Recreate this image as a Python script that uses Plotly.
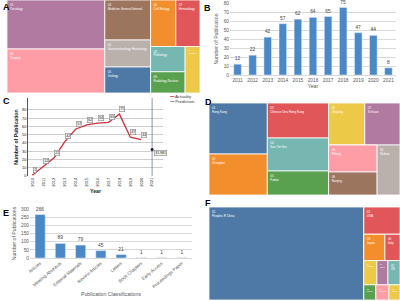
import plotly.graph_objects as go

W, H = 400, 301
FONT = "Liberation Sans, Arial, sans-serif"

def fx(px):
    return px / W

def fy(py):
    return 1 - py / H

# ---------------- data ----------------
# Panel B
years_b = ["2011", "2012", "2013", "2014", "2015", "2016", "2017", "2018", "2019", "2020", "2021"]
pubs_b = [12, 22, 42, 57, 62, 64, 65, 75, 47, 44, 8]

# Panel C
years_c = [2010, 2011, 2012, 2013, 2014, 2015, 2016, 2017, 2018, 2019, 2020]
actual_c = [1, 12, 22, 42, 57, 62, 64, 65, 75, 47, 44]
pred_year = 2021
pred_value = 31.981
c_tick_years = list(range(2010, 2022))
c_tick_vals = [0, 10, 20, 30, 40, 50, 60, 70, 80]
c_ymax = 94.5
c_legend = ["Actuality", "Prediction"]

# Panel E
e_cats = ["Articles", "Meeting Abstracts", "Editorial Materials", "Review Articles",
          "Letters", "Book Chapters", "Early Access", "Proceedings Paper"]
e_vals = [266, 89, 79, 45, 21, 1, 1, 1]

# Tableau palette
TAB = {"blue": "#4E79A7", "orange": "#F28E2B", "red": "#E15759", "teal": "#76B7B2",
       "green": "#59A14F", "yellow": "#EDC948", "purple": "#B07AA1", "pink": "#FF9DA7",
       "brown": "#9C755F", "gray": "#BAB0AC", "none": "#FFFFFF"}

# Panel A treemap
a_ids = ["A", "A1", "A2", "A3", "A3a", "A3b", "A3b1",
         "a01", "a02", "a03", "a04", "a05", "a06", "a07", "a08", "a09", "a10"]
a_parents = ["", "A", "A", "A", "A3", "A3", "A3b",
             "A1", "A1", "A2", "A2", "A2", "A3a", "A3a", "A3b1", "A3b1", "A3b"]
a_values = [0, 0, 0, 0, 0, 0, 0,
            4704, 4224, 1800, 1215, 1170, 1150, 1104, 850, 714, 690]
a_colors = ["none"] * 7 + ["purple", "pink", "brown", "gray", "blue", "orange", "red", "teal", "green", "yellow"]
a_text = [""] * 7 + ["01<br>Oncology", "02<br>Surgery", "03<br>Medicine General Internal",
                     "04<br>Gastroenterology Hepatology", "05<br>Urology", "06<br>Cell Biology",
                     "07<br>Hematology", "08<br>Pathology", "09<br>Radiology Nuclear", "10<br>Pharmacy"]

# Panel D treemap
d_ids = ["D", "D1", "D2", "D3", "D3a", "D3b", "D3b1",
         "d01", "d02", "d03", "d04", "d05", "d06", "d07", "d08", "d09", "d10"]
d_parents = ["", "D", "D", "D", "D3", "D3", "D3b",
             "D1", "D1", "D2", "D2", "D2", "D3a", "D3a", "D3b1", "D3b1", "D3b"]
d_values = [0, 0, 0, 0, 0, 0, 0,
            2958, 2378, 2135, 2013, 1464, 1512, 1470, 1296, 1104, 1150]
d_colors = ["none"] * 7 + ["blue", "orange", "red", "teal", "green", "yellow", "purple", "pink", "brown", "gray"]
d_text = [""] * 7 + ["01<br>Hong Kong", "02<br>Shanghai", "03<br>Chinese Univ Hong Kong",
                     "04<br>Sun Yat Sen", "05<br>Fudan", "06<br>Zhejiang", "07<br>Sichuan",
                     "08<br>Peking", "09<br>Nanjing", "10<br>Wuhan"]

# Panel F treemap
f_ids = ["F", "f01", "F1", "f02", "F1b", "f03", "f04", "F1c", "f05", "f06", "f07",
         "F1d", "f08", "f09", "f10"]
f_parents = ["", "F", "F", "F1", "F1", "F1b", "F1b", "F1", "F1c", "F1c", "F1c",
             "F1", "F1d", "F1d", "F1d"]
f_values = [0, 14168, 0, 972, 0, 546, 390, 0, 312, 264, 288, 0, 180, 195, 165]
f_colors = ["none", "blue", "none", "red", "none", "orange", "red", "none", "yellow", "purple", "teal",
            "none", "green", "pink", "yellow"]
f_text = ["", "01<br>Peoples R China", "", "02<br>USA", "", "03<br>Japan", "04<br>Italy", "",
          "05<br>Germany", "06<br>Korea", "07<br>UK", "", "08<br>France", "09<br>Canada", "10<br>Spain"]

# ---------------- figure ----------------
fig = go.Figure()


def add_treemap(ids, parents, values, colors, text, dx, dy):
    fig.add_trace(go.Treemap(
        ids=ids, parents=parents, values=values, labels=ids,
        branchvalues="remainder", sort=False,
        text=text, texttemplate="%{text}", textposition="top left",
        textfont=dict(family=FONT, size=3, color="white"),
        marker=dict(colors=[TAB[c] for c in colors], line=dict(color="white", width=0.8),
                    pad=dict(t=0, l=0, r=0, b=0), depthfade=False),
        tiling=dict(packing="slice-dice", pad=0),
        pathbar=dict(visible=False),
        hoverinfo="skip",
        domain=dict(x=dx, y=dy),
    ))


add_treemap(a_ids, a_parents, a_values, a_colors, a_text, [fx(7), fx(200)], [fy(93), fy(0)])
add_treemap(d_ids, d_parents, d_values, d_colors, d_text, [fx(209), fx(400)], [fy(195), fy(103)])
add_treemap(f_ids, f_parents, f_values, f_colors, f_text, [fx(209), fx(400)], [fy(300), fy(207)])

BAR = "#4A88C7"
RED = "#C8323A"
PRED = "#6E7F9E"

# Panel B
fig.add_trace(go.Bar(x=years_b, y=pubs_b, marker_color=BAR, text=pubs_b,
                     textposition="outside", cliponaxis=False, constraintext="none",
                     textfont=dict(family=FONT, size=4.8, color="#404040"),
                     xaxis="x", yaxis="y", showlegend=False, hoverinfo="skip"))

# Panel C
fig.add_trace(go.Scatter(x=years_c, y=actual_c, mode="lines", name=c_legend[0],
                         line=dict(color=RED, width=1.3), showlegend=False,
                         xaxis="x2", yaxis="y2", hoverinfo="skip"))
fig.add_trace(go.Scatter(x=[pred_year, pred_year], y=[0, c_ymax], mode="lines", name=c_legend[1],
                         line=dict(color=PRED, width=0.8), showlegend=False,
                         xaxis="x2", yaxis="y2", hoverinfo="skip"))
fig.add_trace(go.Scatter(x=[pred_year], y=[pred_value], mode="markers", showlegend=False,
                         marker=dict(color="#1a1a2e", size=3),
                         xaxis="x2", yaxis="y2", hoverinfo="skip"))

# Panel E
fig.add_trace(go.Bar(x=e_cats, y=e_vals, marker_color=BAR, text=e_vals,
                     textposition="outside", cliponaxis=False, constraintext="none",
                     textfont=dict(family=FONT, size=4.8, color="#404040"),
                     xaxis="x3", yaxis="y3", showlegend=False, hoverinfo="skip"))

annotations = []
# panel letters
for letter, lx, ly in [("A", 1, 0), ("B", 202, 1), ("C", 1, 94), ("D", 203, 95), ("E", 1, 206), ("F", 203, 196)]:
    annotations.append(dict(text=f"<b>{letter}</b>", x=fx(lx), y=fy(ly), xref="paper", yref="paper",
                            xanchor="left", yanchor="top", showarrow=False,
                            font=dict(family=FONT, size=9, color="black")))
# boxed data labels in C
for yr, v in zip(years_c, actual_c):
    annotations.append(dict(text=str(v), x=yr, y=v, xref="x2", yref="y2", showarrow=False,
                            xshift=3, yshift=5, font=dict(family=FONT, size=3.5, color="#222"),
                            bgcolor="#f2f2f2", bordercolor="#888", borderwidth=0.6, borderpad=0.6))
annotations.append(dict(text=f"{pred_value:.3f}", x=pred_year, y=pred_value, xref="x2", yref="y2",
                        showarrow=False, xanchor="left", xshift=2, yshift=-3,
                        font=dict(family=FONT, size=3.5, color="#222"),
                        bgcolor="#f2f2f2", bordercolor="#888", borderwidth=0.6, borderpad=0.6))
# legend of C
for i, (name, col) in enumerate(zip(c_legend, [RED, PRED])):
    annotations.append(dict(text=f"<span style='color:{col}'>━━</span> {name}",
                            x=fx(167), y=fy(96.5 + 5 * i), xref="paper", yref="paper",
                            xanchor="left", yanchor="middle", showarrow=False,
                            font=dict(family=FONT, size=4.3, color="#333")))

tick_gray = "#595959"
grid = "#D9D9D9"

fig.update_layout(
    width=W, height=H, margin=dict(l=0, r=0, t=0, b=0),
    paper_bgcolor="white", plot_bgcolor="white",
    font=dict(family=FONT, color="#222"),
    bargap=0.5, showlegend=False,
    annotations=annotations,
    # B
    xaxis=dict(domain=[fx(230), fx(396)], anchor="y", type="category", automargin=False,
               tickfont=dict(size=4.8, color=tick_gray), ticks="", showgrid=False,
               showline=True, linecolor=grid, linewidth=0.8,
               title=dict(text="Year", font=dict(size=5.2, color=tick_gray), standoff=2)),
    yaxis=dict(domain=[fy(75), fy(3)], anchor="x", range=[0, 80], dtick=10, automargin=False,
               tickfont=dict(size=4.8, color=tick_gray), ticks="", gridcolor=grid, gridwidth=0.6,
               zeroline=False,
               title=dict(text="Number of Publication", font=dict(size=5.2, color=tick_gray), standoff=4)),
    # C
    xaxis2=dict(domain=[fx(28), fx(163)], anchor="y2", range=[2009.6, 2022.0], automargin=False,
                tickvals=c_tick_years, tickangle=-90, tickfont=dict(size=4, color="#222"),
                showgrid=False, zeroline=False, showline=False, ticks="",
                title=dict(text="<b>Year</b>", font=dict(size=5.2, color="#222"), standoff=3)),
    yaxis2=dict(domain=[fy(176), fy(98)], anchor="x2", range=[0, c_ymax], automargin=False,
                tickvals=c_tick_vals, tickfont=dict(size=4, color="#222"), ticks="",
                gridcolor="#CFCFCF", gridwidth=0.6, zeroline=False,
                showline=True, linecolor="#555", linewidth=0.6,
                title=dict(text="<b>Number of Publication</b>", font=dict(size=5.2, color="#222"), standoff=3)),
    # E
    xaxis3=dict(domain=[fx(30), fx(192)], anchor="y3", type="category", automargin=False,
                tickangle=-40, tickfont=dict(size=4.5, color=tick_gray), ticks="", showgrid=False,
                showline=True, linecolor=grid, linewidth=0.8,
                title=dict(text="Publication Classifications", font=dict(size=5.2, color=tick_gray), standoff=4)),
    yaxis3=dict(domain=[fy(258), fy(209)], anchor="x3", range=[0, 300], dtick=50, automargin=False,
                tickfont=dict(size=4.8, color=tick_gray), ticks="", gridcolor=grid, gridwidth=0.6,
                zeroline=False,
                title=dict(text="Number of Publications", font=dict(size=5.2, color=tick_gray), standoff=4)),
)

fig.write_html("out.html", config={"displayModeBar": False},
               post_script="document.body.style.margin='0';document.body.style.overflow='hidden';")
